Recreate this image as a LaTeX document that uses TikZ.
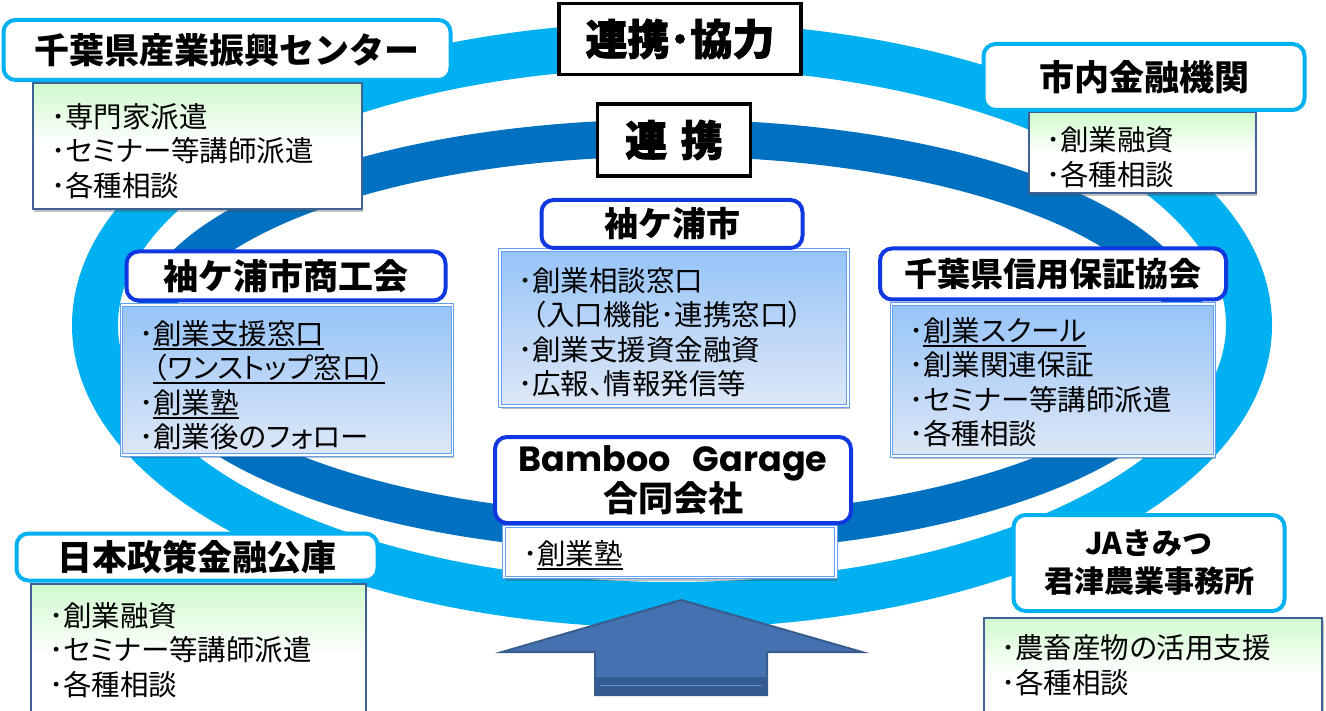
\documentclass[tikz,border=0pt]{standalone}
\usepackage{fontspec}
\setmainfont{Noto Sans CJK JP}
\newfontfamily\bodyfont{Noto Sans CJK JP}[RawFeature=+palt]
\newfontfamily\heavyfont{Noto Sans CJK JP}[BoldFeatures={FakeBold=2}]
\newfontfamily\latinfont{Poppins}
\usetikzlibrary{shadows}
\definecolor{ringlight}{RGB}{0,176,240}
\definecolor{ringdark}{RGB}{0,112,192}
\definecolor{innerblue}{RGB}{16,56,224}
\definecolor{greentop}{RGB}{208,250,204}
\definecolor{contedge}{RGB}{62,98,148}
\definecolor{bluetop}{RGB}{150,196,248}
\definecolor{bluebot}{RGB}{222,231,246}
\definecolor{dblue}{RGB}{100,160,240}
\definecolor{arrowfill}{RGB}{68,114,176}
\definecolor{arrowedge}{RGB}{56,93,140}
\definecolor{arrowbase}{RGB}{52,92,146}
\newcommand\ulx[1]{\setbox0\hbox{#1}\rlap{\rule[-5.5pt]{\wd0}{1.8pt}}\box0}
\newcommand\bul{･}
\begin{document}
\begin{tikzpicture}[x=1pt,y=-1pt,
  obox/.style={draw=ringlight, line width=4pt, rounded corners=12pt, fill=white,
    font=\bfseries\fontsize{35}{40}\selectfont, align=center, inner sep=0pt},
  ibox/.style={obox, draw=innerblue},
  kbox/.style={draw=black, line width=3.5pt, fill=white, inner sep=0pt,
    font=\heavyfont\bfseries\fontsize{42}{46}\selectfont},
  shad/.style={drop shadow={shadow xshift=1.5pt, shadow yshift=-3pt, opacity=0.35, fill=black!70}},
  gcont/.style={draw=contedge, line width=2pt, top color=greentop, bottom color=white,
    middle color=white, shad, inner sep=0pt},
  bcont/.style={draw=dblue, double=white, double distance=1.2pt, line width=1.3pt,
    top color=bluetop, bottom color=bluebot, shad, inner sep=0pt},
  wcont/.style={draw=dblue, double=white, double distance=1.2pt, line width=1.3pt,
    fill=white, shad, inner sep=0pt},
  txt/.style={anchor=west, align=left, inner sep=0pt,
    font=\bodyfont\fontsize{28.5}{34.5}\selectfont}
]
\clip (0,0) rectangle (1326,711);
\fill[white] (0,0) rectangle (1326,711);
% rings
\draw[ringlight, line width=46pt] (672,325) ellipse [x radius=577, y radius=280];
\draw[ringdark, line width=37pt] (670,336) ellipse [x radius=520, y radius=198];
% arrow
\fill[arrowfill, draw=arrowedge, line width=2pt, line join=miter]
  (681,600) -- (862,652) -- (767,652) -- (767,695) -- (595,695) -- (595,652) -- (502,652) -- cycle;
\fill[arrowbase] (596,677) rectangle (766,694);
\draw[arrowfill!80!white, line width=1pt] (600,685) -- (762,685);
% content boxes
\node[gcont, minimum width=329, minimum height=126] (c1) at (197,146) {};
\node[gcont, minimum width=227, minimum height=81] (c2) at (1142,153) {};
\node[bcont, minimum width=348, minimum height=156] (c3) at (674,328) {};
\node[bcont, minimum width=331, minimum height=150] (c4) at (287,380) {};
\node[bcont, minimum width=323, minimum height=152] (c5) at (1053,380) {};
\node[wcont, minimum width=332, minimum height=51] (c6) at (670,552) {};
\node[gcont, minimum width=335, minimum height=145] (c7) at (198,656) {};
\node[gcont, minimum width=338, minimum height=112] (c8) at (1153,674) {};
% headers
\node[obox, minimum width=447, minimum height=60] (h1) at (227,50) {千葉県産業振興センター};
\node[kbox, minimum width=242, minimum height=71] (k1) at (680,39) {連携･協力};
\node[kbox, minimum width=153, minimum height=72] (k2) at (674,140) {連\hspace{4pt} 携};
\node[obox, minimum width=321, minimum height=66] (h2) at (1144,77) {市内金融機関};
\node[ibox, minimum width=261, minimum height=48, font=\bfseries\fontsize{34}{40}\selectfont] (h3) at (672,224) {袖ケ浦市};
\node[ibox, minimum width=319, minimum height=49] (h4) at (286,276) {袖ケ浦市商工会};
\node[ibox, minimum width=346, minimum height=51, font=\bfseries\fontsize{33}{40}\selectfont] (h5) at (1053,274) {千葉県信用保証協会};
\node[ibox, minimum width=356, minimum height=86] (h6) at (673,480) {{\latinfont\bfseries Bamboo\hspace{22pt}Garage}\\合同会社};
\node[obox, minimum width=361, minimum height=47] (h7) at (197,557) {日本政策金融公庫};
\node[obox, minimum width=271, minimum height=96, font=\bfseries\fontsize{30}{38}\selectfont] (h8) at (1149,563) {JAきみつ\\君津農業事務所};
% texts
\node[txt] (t1) at (51,151) {\bul 専門家派遣\\\bul セミナー等講師派遣\\\bul 各種相談};
\node[txt] (t2) at (1046,157) {\bul 創業融資\\\bul 各種相談};
\node[txt] (t3) at (518,332) {\bul 創業相談窓口\\\hspace{14pt}（入口機能･連携窓口）\\\bul 創業支援資金融資\\\bul 広報、情報発信等};
\node[txt] (t4) at (139,385) {\bul\ulx{創業支援窓口}\\\hspace{14pt}\ulx{（ワンストップ窓口）}\\\bul\ulx{創業塾}\\\bul 創業後のフォロー};
\node[txt] (t5) at (909,382) {\bul\ulx{創業スクール}\\\bul 創業関連保証\\\bul セミナー等講師派遣\\\bul 各種相談};
\node[txt] (t6) at (523,555) {\bul\ulx{創業塾}};
\node[txt] (t7) at (49,650) {\bul 創業融資\\\bul セミナー等講師派遣\\\bul 各種相談};
\node[txt] (t8) at (1001,665) {\bul 農畜産物の活用支援\\\bul 各種相談};
\end{tikzpicture}
\end{document}
